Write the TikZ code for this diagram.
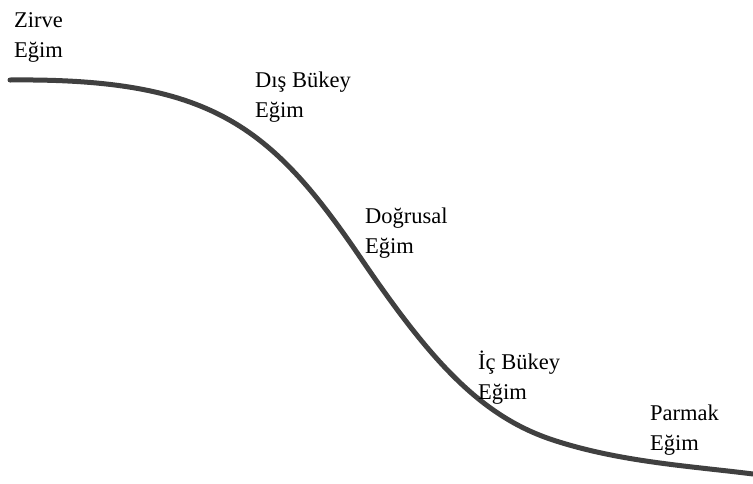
\documentclass[tikz,border=0pt]{standalone}
\usepackage{fontspec}
\setmainfont{Liberation Serif}
\usepackage{tikz}
\usetikzlibrary{positioning}

\begin{document}
\begin{tikzpicture}[
    x=1pt, y=-1pt,
    slope/.style={line width=5pt, draw=black!75, line cap=round},
    lbl/.style={anchor=base west, align=left, inner sep=0pt, font=\fontsize{22.5}{30}\selectfont}
]
\useasboundingbox (0,0) rectangle (753,483);

% hill profile
\draw[slope] (10,80) .. controls (210,78) and (270,125) .. (360,257)
    .. controls (430,360) and (480,416) .. (553,440)
    .. controls (620,462) and (690,466) .. (753,474);

\node[lbl] (zirve) at (14,57) {Zirve\\Eğim};
\node[lbl] (disbukey) at (255,117) {Dış Bükey\\Eğim};
\node[lbl] (dogrusal) at (365,253) {Doğrusal\\Eğim};
\node[lbl] (icbukey) at (478,399) {İç Bükey\\Eğim};
\node[lbl] (parmak) at (650,450) {Parmak\\Eğim};
\end{tikzpicture}
\end{document}
